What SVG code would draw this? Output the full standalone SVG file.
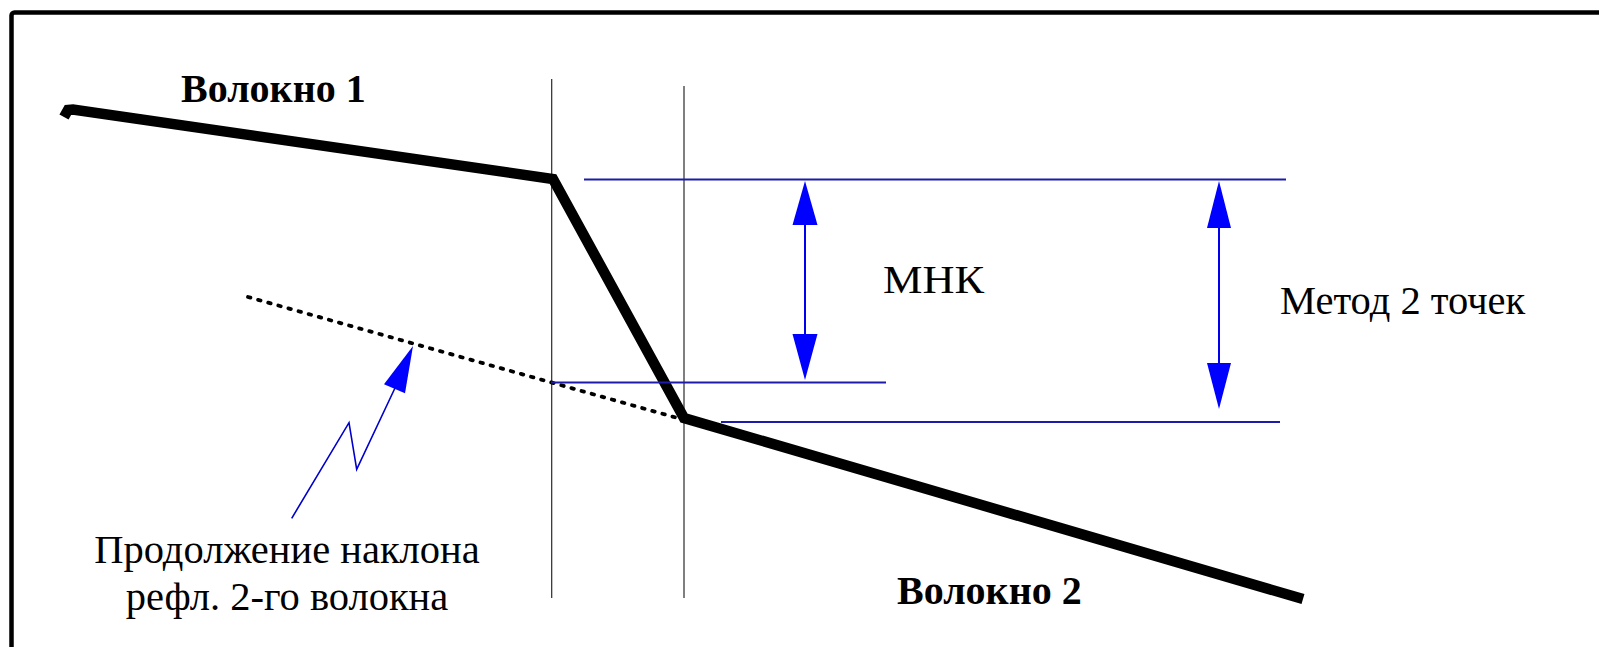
<svg xmlns="http://www.w3.org/2000/svg" width="1599" height="647" viewBox="0 0 1599 647">
<defs>
<style>
.frame{fill:none;stroke:#000;stroke-width:4.5}
.fiber{fill:none;stroke:#000;stroke-width:10.5;stroke-linejoin:miter;stroke-linecap:butt}
.vline{stroke:#2a2a2a;stroke-width:1.2}
.hline{stroke:#1c1ca8;stroke-width:2}
.shaft{stroke:#0000ee;stroke-width:2}
.head{fill:#0000ff}
.dots{fill:none;stroke:#000;stroke-width:3.8;stroke-linecap:round;stroke-dasharray:2.5 8}
.bolt{fill:none;stroke:#0000cc;stroke-width:1.6}
.tb{font-family:"Liberation Serif","Times New Roman",serif;font-weight:bold;font-size:40px;fill:#000}
.tr{font-family:"Liberation Serif","Times New Roman",serif;font-size:40.5px;fill:#000}
</style>
</defs>
<rect width="1599" height="647" fill="#fff"/>
<rect class="frame" x="11.5" y="12.5" width="1620" height="660" rx="3"/>

<g id="guides">
<line class="vline" x1="551.7" y1="79" x2="551.7" y2="598"/>
<line class="vline" x1="684" y1="86" x2="684" y2="598"/>
</g>

<g id="fiber-trace">
<path class="fiber" d="M64,117 L68,110 L73,109.5 L553,179 L684,418 L1303,599"/>
<path class="dots" d="M248,297 L681,419"/>
</g>

<g id="connectors">
<line class="hline" x1="584" y1="179.5" x2="1286" y2="179.5"/>
<line class="hline" x1="551" y1="382.5" x2="886" y2="382.5"/>
<line class="hline" x1="721" y1="422" x2="1280" y2="422"/>
<g id="arrow-mnk">
<line class="shaft" x1="805" y1="220" x2="805" y2="340"/>
<polygon class="head" points="805,181 792.5,225 817.5,225"/>
<polygon class="head" points="805,380 792.5,334 817.5,334"/>
</g>
<g id="arrow-2pt">
<line class="shaft" x1="1219" y1="225" x2="1219" y2="367"/>
<polygon class="head" points="1219,181 1207,228 1231,228"/>
<polygon class="head" points="1219,409 1207,363 1231,363"/>
</g>
<g id="arrow-bolt">
<polyline class="bolt" points="291.7,518.3 349,422.7 356.7,469.3 395,388"/>
<polygon class="head" points="413,346 384,384.3 405,393.3"/>
</g>
</g>

<g id="label-fiber1"><text class="tb" x="181" y="102">Волокно 1</text></g>
<g id="label-fiber2"><text class="tb" x="897" y="604">Волокно 2</text></g>
<g id="label-mnk"><text class="tr" x="883" y="293" textLength="101" lengthAdjust="spacingAndGlyphs">МНК</text></g>
<g id="label-2pt"><text class="tr" x="1280" y="314">Метод 2 точек</text></g>
<g id="label-cont">
<text class="tr" x="287" y="563" text-anchor="middle">Продолжение наклона</text>
<text class="tr" x="287" y="610" text-anchor="middle">рефл. 2-го волокна</text>
</g>
</svg>
